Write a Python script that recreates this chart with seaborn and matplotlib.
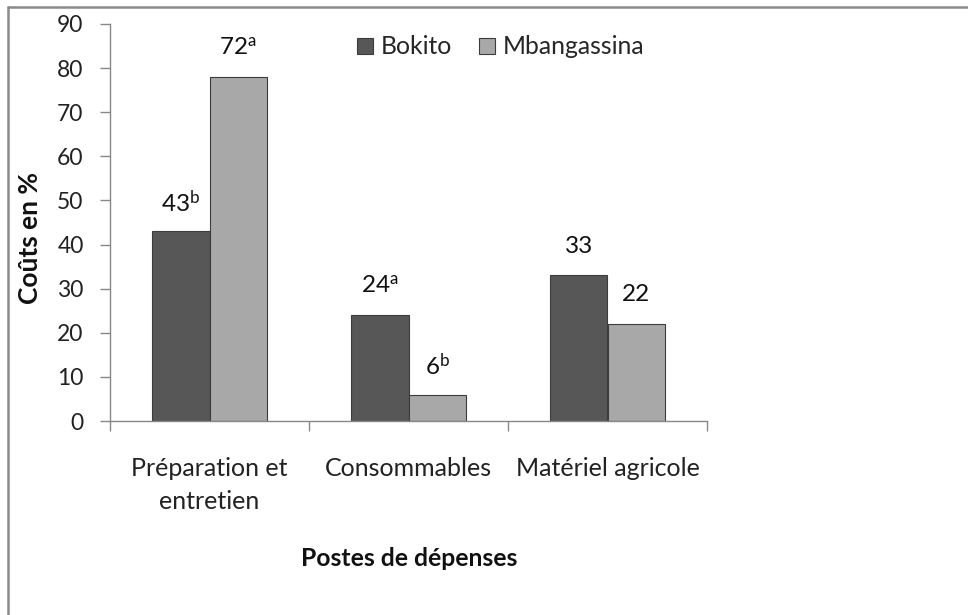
import matplotlib
matplotlib.use("Agg")
import matplotlib.pyplot as plt
import seaborn as sns
import pandas as pd
from matplotlib.lines import Line2D

categories = ["Préparation et\nentretien", "Consommables", "Matériel agricole"]
series = ["Bokito", "Mbangassina"]
bokito = [43, 24, 33]
mbangassina = [78, 6, 22]
bokito_labels = ["43$^{\\mathrm{b}}$", "24$^{\\mathrm{a}}$", "33"]
mbangassina_labels = ["72$^{\\mathrm{a}}$", "6$^{\\mathrm{b}}$", "22"]
yticks = [0, 10, 20, 30, 40, 50, 60, 70, 80, 90]

sns.set_theme(style="white")
plt.rcParams["font.family"] = ["Lato", "DejaVu Sans"]
plt.rcParams["mathtext.fontset"] = "custom"
plt.rcParams["mathtext.rm"] = "Lato"
plt.rcParams["mathtext.it"] = "Lato:italic"
plt.rcParams["mathtext.bf"] = "Lato:bold"

df = pd.DataFrame({
    "Poste": categories * 2,
    "Site": [series[0]] * 3 + [series[1]] * 3,
    "Valeur": bokito + mbangassina,
})

fig = plt.figure(figsize=(9.68, 6.15), dpi=100)
ax = fig.add_axes([110 / 968, 1 - 421 / 615, (707 - 110) / 968, (421 - 24) / 615])

colors = {"Bokito": "#575757", "Mbangassina": "#a8a8a8"}
sns.barplot(data=df, x="Poste", y="Valeur", hue="Site", palette=colors,
            width=0.575, ax=ax, legend=False, edgecolor="#3c3c3c", linewidth=0.8,
            saturation=1)

# labels
for cont, labs in zip(ax.containers, [bokito_labels, mbangassina_labels]):
    for bar, lab in zip(cont, labs):
        ax.annotate(lab, (bar.get_x() + bar.get_width() / 2, bar.get_height()),
                    xytext=(0, 21), textcoords="offset points",
                    ha="center", va="center", fontsize=17.5, color="#111111")

ax.set_ylim(0, 90)
ax.set_yticks(yticks)
ax.set_xlim(-0.5, 2.5)
ax.set_xticks([-0.5, 0.5, 1.5, 2.5])
ax.set_xticklabels([])
ax.set_xticks([0, 1, 2], minor=True)
ax.set_xticklabels(categories, minor=True, fontsize=18, color="#222222", linespacing=1.5)
ax.tick_params(axis="x", which="minor", length=0, pad=26)
ax.tick_params(axis="x", which="major", length=7, width=1, color="#888888", direction="out", bottom=True)
ax.tick_params(axis="y", length=7, width=1, color="#888888", direction="out", left=True,
               labelsize=16.5, labelcolor="#222222", pad=12)

for s in ["top", "right"]:
    ax.spines[s].set_visible(False)
for s in ["left", "bottom"]:
    ax.spines[s].set_color("#888888")
    ax.spines[s].set_linewidth(1)

ax.set_xlabel("")
ax.set_ylabel("Coûts en %", fontsize=19, fontweight="bold", color="#111111", va="center")
ax.yaxis.set_label_coords((30 - 110) / 597, (421 - 238) / 397)
fig.text(409 / 968, 1 - 558 / 615, "Postes de dépenses", ha="center", va="center",
         fontsize=17.8, fontweight="bold", color="#111111")

handles = [plt.Rectangle((0, 0), 1, 1, facecolor=colors[s], edgecolor="#3c3c3c", linewidth=0.8) for s in series]
fig.legend(handles, series, loc="center left", bbox_to_anchor=(335 / 968, 1 - 47 / 615),
           bbox_transform=fig.transFigure, ncol=2, frameon=False, fontsize=17.8,
           handlelength=0.65, handleheight=0.65, handletextpad=0.3, columnspacing=1.1)

# outer frame (top and left)
fig.add_artist(Line2D([8 / 968, 8 / 968], [0, 1 - 7 / 615], transform=fig.transFigure,
                      color="#8a8a8a", linewidth=1.8))
fig.add_artist(Line2D([8 / 968, 1], [1 - 7 / 615, 1 - 7 / 615], transform=fig.transFigure,
                      color="#8a8a8a", linewidth=1.8))

fig.savefig("out.png", dpi=100)
